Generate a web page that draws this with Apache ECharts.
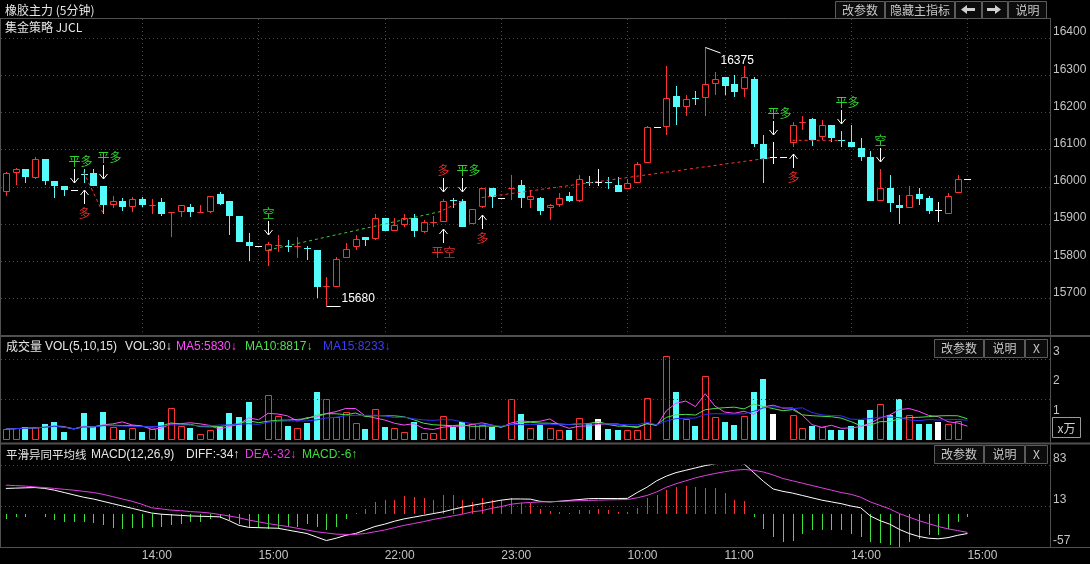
<!DOCTYPE html>
<html><head><meta charset="utf-8">
<script src="https://cdn.jsdelivr.net/npm/echarts@6/dist/echarts.min.js"></script>
<style>html,body{margin:0;padding:0;background:#000;}#c{width:1090px;height:564px;}</style>
</head><body><div id="c"></div>
<script>
// ---------- data ----------
const times = ['10:55','11:00','11:05','11:10','11:15','11:20','11:25','11:30',
'13:30','13:35','13:40','13:45','13:50','13:55','14:00','14:05','14:10','14:15','14:20','14:25','14:30','14:35','14:40','14:45','14:50','14:55','15:00',
'21:00','21:05','21:10','21:15','21:20','21:25','21:30','21:35','21:40','21:45','21:50','21:55','22:00','22:05','22:10','22:15','22:20','22:25','22:30','22:35','22:40','22:45','22:50','22:55','23:00',
'09:00','09:05','09:10','09:15','09:20','09:25','09:30','09:35','09:40','09:45','09:50','09:55','10:00','10:05','10:10','10:15',
'10:30','10:35','10:40','10:45','10:50','10:55','11:00','11:05','11:10','11:15','11:20','11:25','11:30',
'13:30','13:35','13:40','13:45','13:50','13:55','14:00','14:05','14:10','14:15','14:20','14:25','14:30','14:35','14:40','14:45','14:50','14:55','15:00'];
const emptySlots = 8;
const hourTicks = [14, 26, 39, 51, 64, 74, 87, 99];

const opens  = [15987,16036,16049,16023,16074,16015,16002,15991,16035,16036,
16003,15951,15961,15946,15967,15949,15960,15932,15933,15946,
15932,15933,15980,15962,15921,15852,15841,15828,15842,15842,
15838,15836,15830,15730,15731,15808,15837,15864,15861,15915,
15882,15897,15915,15879,15904,15906,15964,15962,15900,15946,
15996,15969,15996,16005,15964,15969,15942,15951,15975,15962,
16014,16013,16012,16005,15993,16011,16063,16160,16161,16244,
16215,16238,16238,16276,16294,16276,16262,16289,16115,16079,
16079,16117,16173,16181,16133,16166,16125,16121,16103,16081,
15962,15996,15951,15942,15980,15969,15937,15928,15982,16020];
const closes = [16036,16049,16027,16074,16016,16002,15991,15991,16033,16002,
15951,15962,15946,15968,15951,15951,15927,15933,15951,15933,
15933,15975,15955,15921,15852,15841,15841,15846,15844,15840,
15840,15834,15731,15732,15805,15834,15861,15857,15915,15882,
15897,15915,15882,15906,15906,15962,15961,15893,15939,15996,
15973,15969,15998,15969,15975,15935,15951,15969,15962,16020,
16013,16013,16010,15987,16009,16061,16160,16160,16240,16215,
16235,16236,16276,16289,16271,16255,16294,16115,16076,16079,
16079,16166,16175,16126,16166,16130,16124,16106,16081,15962,
15996,15957,15942,15978,15966,15935,15937,15975,16020,16020];
const lows   = [15975,16006,16011,16020,16005,15969,15976,15991,16011,16002,
15928,15942,15935,15933,15946,15927,15921,15864,15918,15918,
15930,15930,15951,15870,15852,15801,15841,15787,15826,15826,
15808,15803,15700,15680,15731,15808,15830,15840,15857,15882,
15882,15893,15866,15876,15892,15906,15942,15893,15900,15942,
15942,15969,15964,15942,15942,15924,15910,15946,15959,15960,
16002,16002,15993,15987,15993,16011,16063,16160,16139,16166,
16190,16220,16190,16246,16246,16242,16242,16106,16011,16061,
16079,16106,16152,16109,16126,16121,16106,16106,16070,15962,
15962,15933,15900,15942,15951,15928,15906,15928,15982,16020];
const highs  = [16040,16050,16049,16081,16076,16015,16002,15991,16049,16049,
16003,15975,15969,15973,15973,15966,15969,15933,15951,15955,
15951,15975,15985,15962,15921,15875,15841,15852,15870,15857,
15864,15840,15830,15758,15810,15849,15870,15864,15927,15915,
15915,15927,15927,15911,15921,15966,15969,15966,15939,15996,
15996,15969,16031,16018,15991,15973,15955,15984,15986,16031,
16029,16049,16027,16027,16020,16067,16164,16160,16324,16271,
16247,16258,16375,16309,16294,16300,16324,16294,16139,16121,
16079,16175,16190,16184,16179,16166,16151,16166,16130,16097,
16049,16031,15978,16002,15996,15975,15960,15984,16031,16020];
const volumes = [3700,4000,4300,4300,5400,6100,2700,30,9200,4300,
9500,4300,3400,4000,2700,3700,6100,10700,4600,4100,
1900,3400,4300,9200,7800,12900,30,15300,8000,4700,
4100,5900,16300,13900,7900,9500,5800,3700,10500,4400,
4000,2700,6200,2400,2400,8000,4400,6200,5400,5100,
4500,30,13800,8800,4000,5100,4000,3400,3400,7400,
5700,7000,3700,3400,3400,3400,14100,30,28500,16300,
7100,4700,21700,7700,6100,5100,8100,16300,20700,8800,
30,8500,4000,4700,4300,3400,3400,4700,6800,10200,
12200,8500,13900,8500,5400,5400,6200,5400,6400,30];
const diffLine = [43,43.5,44,44.5,43,40,36,32,28,25,
21,17,13,9,5,1,-1,-2,-3,-4,
-4.5,-5,-5.5,-12,-20,-23.5,-24,-24.5,-25,-28,
-31,-34,-40,-46,-42,-37,-34,-28,-22,-18,
-13,-9,-6,-3,0,3,7,11,14,17,
20,23,25,25,24.7,21,20,21,22.5,24,
25.5,25.8,25.8,25.8,26,36,45,56,64,70,
74,78,82,85,87,87,85,70,55,42,
38,35,31,27,23,20,17,13,10,-4,
-12,-18,-27,-34,-39,-42,-43,-41,-37,-34];
const deaLine = [48.6,47.8,47,45.5,44.5,43,41.5,40,38,36,
33,29,25,21,16,10,8,6,5,3.5,
2.5,1,-1.5,-4,-7,-11,-14,-17,-19.5,-22,
-25,-28,-31,-33,-35,-35.5,-35.5,-34,-31,-28,
-24,-20,-17,-13.7,-10,-7,-4,-1,3,5,
9,12,16,18,19,20,20.5,21,21.5,22,
22.5,23,23.5,23.8,24,27,31,37,45,51,
56,61,65,68.5,71.5,74,75.4,74,71,66,
60,56,52,48,44,40,36,33,28,20,
14,8,0,-6,-12,-17,-22,-26,-29,-32];
const macdBars = [-10,-6,-5,-1,-5,-11,-14,-15,-15,-16,
-20,-24,-26,-24,-24,-22,-22,-20,-17,-15,
-14,-9,-7,-11,-17,-22,-24,-26,-24,-22,
-22,-17,-22,-28,-22,-10,1,8,20,23,
24,30,28,26,24,31,31,23,20,27,
23,23,26,18,18,8,5,2,1,7,
7,8,6,3,3,9,26,31,40,46,
47,46,43,43,35,24,22,-5,-26,-40,
-48,-46,-34,-28,-28,-28,-28,-34,-40,-48,
-50,-54,-57,-48,-44,-37,-37,-27,-14,-6];

// trade signals
const sigIdx  = [7, 8, 10, 27, 45, 45, 47, 49, 79, 81, 86, 90];
const sigText = ['平多','多','平多','空','多','平空','平多','多','平多','多','平多','空'];
const sigPos  = ['above','below','above','above','above','below','above','below','above','below','above','above'];
// trade connecting lines: start index, start price, end index, end price, side
const tradeFrom  = [8, 27, 45, 49, 81];
const tradeFromP = [16040, 15830, 15937, 15971, 16125];
const tradeTo    = [10, 45, 47, 79, 86];
const tradeToP   = [15930, 15935, 15962, 16079, 16125];
const tradeSide  = ['long','short','long','long','long'];

// ---------- styling ----------
const RED = '#FF3232', CYAN = '#54FCFC', WHITE = '#FFFFFF';
const SIG_GREEN = '#2ED32E', SIG_RED = '#E82A2A';
const GRID_C = '#4a4a4a', BORDER = '#505050', LABEL_C = '#c4c4c4';
const FONT = '"Noto Sans CJK SC", "Microsoft YaHei", sans-serif';
const NUMFONT = 'Arial, "Liberation Sans", sans-serif';

const cats = times.concat(new Array(emptySlots).fill(''));
const n = closes.length;

function ma(arr, p) {
  return arr.map((v, i) => {
    let s = 0, c = 0;
    for (let k = Math.max(0, i - p + 1); k <= i; k++) { s += arr[k]; c++; }
    return [i, s / c / 10000];
  });
}

const chart = echarts.init(document.getElementById('c'), null, {renderer: 'canvas'});

function candleItem(params, api) {
  const i = api.value(0), o = api.value(1), c = api.value(2), l = api.value(3), h = api.value(4);
  const xc = Math.round(api.coord([i, o])[0]);
  const yO = Math.round(api.coord([i, o])[1]);
  const yC = Math.round(api.coord([i, c])[1]);
  const yL = Math.round(api.coord([i, l])[1]);
  const yH = Math.round(api.coord([i, h])[1]);
  const ch = [];
  const wx = xc + 0.5;
  if (c > o) {
    const top = yC, bot = yO;
    if (yH < top) ch.push({type: 'line', shape: {x1: wx, y1: yH, x2: wx, y2: top}, style: {stroke: RED, lineWidth: 1}});
    if (yL > bot) ch.push({type: 'line', shape: {x1: wx, y1: bot, x2: wx, y2: yL}, style: {stroke: RED, lineWidth: 1}});
    ch.push({type: 'rect', shape: {x: xc - 2.5, y: top + 0.5, width: 6, height: Math.max(bot - top - 1, 0)},
      style: {fill: '#000', stroke: RED, lineWidth: 1}});
  } else if (c < o) {
    ch.push({type: 'line', shape: {x1: wx, y1: yH, x2: wx, y2: yL}, style: {stroke: CYAN, lineWidth: 1}});
    ch.push({type: 'rect', shape: {x: xc - 3, y: yO, width: 7, height: Math.max(yC - yO, 1)}, style: {fill: CYAN}});
  } else {
    if (yL > yH) ch.push({type: 'line', shape: {x1: wx, y1: yH, x2: wx, y2: yL}, style: {stroke: WHITE, lineWidth: 1}});
    ch.push({type: 'line', shape: {x1: xc - 3, y1: yO + 0.5, x2: xc + 4, y2: yO + 0.5}, style: {stroke: WHITE, lineWidth: 1}});
  }
  return {type: 'group', children: ch};
}

function volItem(params, api) {
  const i = api.value(0), v = api.value(1), s = api.value(2);
  const xc = Math.round(api.coord([i, 0])[0]);
  const y0 = Math.round(api.coord([i, 0])[1]);
  const y1 = Math.round(api.coord([i, v])[1]);
  if (y0 - y1 < 1) return null;
  if (s > 0) {
    // hollow red bar drawn as an outline path
    const l = xc - 2.5, r = xc + 3.5, t = y1 + 0.5, b = y0 - 0.5;
    return {type: 'polyline', shape: {points: [[l, b], [l, t], [r, t], [r, b], [l, b]]},
      style: {fill: null, stroke: RED, lineWidth: 1}};
  }
  return {type: 'rect', shape: {x: xc - 3, y: y1, width: 6, height: y0 - y1}, style: {fill: s < 0 ? CYAN : WHITE}};
}

function macdItem(params, api) {
  const i = api.value(0), v = api.value(1);
  const x = Math.round(api.coord([i, 0])[0]) + 0.5;
  const y0 = api.coord([i, 0])[1], y1 = api.coord([i, v])[1];
  return {type: 'line', shape: {x1: x, y1: Math.round(y0), x2: x, y2: Math.round(y1)},
    style: {stroke: v >= 0 ? RED : '#3BE03B', lineWidth: 1}};
}

function vGridItem(params, api) {
  const x = Math.round(api.coord([api.value(0), 16000])[0]) + 0.5;
  return {type: 'line', shape: {x1: x, y1: 19, x2: x, y2: 335},
    style: {stroke: GRID_C, lineWidth: 1, lineDash: [1, 3]}, silent: true};
}

function signalItem(params, api) {
  const k = params.dataIndex;
  const i = api.value(0), p = api.value(1);
  const pt = api.coord([i, p]);
  const x = Math.round(pt[0]) + 0.5;
  const txt = sigText[k];
  const col = (txt === '平多' || txt === '空') ? SIG_GREEN : SIG_RED;
  const dx = txt === '平多' ? 6 : 0;
  const ch = [];
  if (sigPos[k] === 'above') {
    const tip = Math.round(pt[1]) - 7, top = tip - 14;
    ch.push({type: 'polyline', shape: {points: [[x, top], [x, tip]]}, style: {stroke: WHITE, lineWidth: 1, fill: null}});
    ch.push({type: 'polyline', shape: {points: [[x - 4, tip - 5], [x, tip], [x + 4, tip - 5]]}, style: {stroke: WHITE, lineWidth: 1, fill: null}});
    ch.push({type: 'text', style: {text: txt, x: x + dx, y: top - 8, fill: col, font: '12px ' + FONT,
      textAlign: 'center', textVerticalAlign: 'middle', align: 'center', verticalAlign: 'middle'}});
  } else {
    const tip = Math.round(pt[1]) + 7, bot = tip + 14;
    ch.push({type: 'polyline', shape: {points: [[x, tip], [x, bot]]}, style: {stroke: WHITE, lineWidth: 1, fill: null}});
    ch.push({type: 'polyline', shape: {points: [[x - 4, tip + 5], [x, tip], [x + 4, tip + 5]]}, style: {stroke: WHITE, lineWidth: 1, fill: null}});
    ch.push({type: 'text', style: {text: txt, x: x + dx, y: bot + 9, fill: col, font: '12px ' + FONT,
      textAlign: 'center', textVerticalAlign: 'middle', align: 'center', verticalAlign: 'middle'}});
  }
  return {type: 'group', children: ch};
}

// extreme annotations (highest high / lowest low), found from the data
let iMax = 0, iMin = 0;
for (let i = 0; i < n; i++) { if (highs[i] > highs[iMax]) iMax = i; if (lows[i] < lows[iMin]) iMin = i; }
function extremeItem(params, api) {
  const i = api.value(0), p = api.value(1), kind = api.value(2);
  const pt = api.coord([i, p]);
  const x = Math.round(pt[0]) + 0.5, y = Math.round(pt[1]);
  if (kind > 0) {
    return {type: 'group', children: [
      {type: 'line', shape: {x1: x, y1: y + 0.5, x2: x + 15, y2: y + 6}, style: {stroke: WHITE, lineWidth: 1}},
      {type: 'text', style: {text: String(p), x: x + 15, y: y + 8, fill: WHITE, font: '12px ' + NUMFONT,
        textAlign: 'left', textVerticalAlign: 'top', align: 'left', verticalAlign: 'top'}}]};
  }
  return {type: 'group', children: [
    {type: 'line', shape: {x1: x, y1: y + 0.5, x2: x + 14, y2: y + 0.5}, style: {stroke: WHITE, lineWidth: 1}},
    {type: 'text', style: {text: String(p), x: x + 15, y: y - 1, fill: WHITE, font: '12px ' + NUMFONT,
      textAlign: 'left', textVerticalAlign: 'bottom', align: 'left', verticalAlign: 'bottom'}}]};
}

const gridCommon = {left: 1, right: 40, outerBoundsMode: 'none', containLabel: false};
const hiddenX = (gi) => ({type: 'category', gridIndex: gi, data: cats, boundaryGap: true,
  axisLine: {show: false}, axisTick: {show: false}, axisLabel: {show: false}, splitLine: {show: false}});

const series = [];
series.push({type: 'custom', xAxisIndex: 0, yAxisIndex: 0, z: 1, silent: true,
  data: hourTicks.map(i => [i]), renderItem: vGridItem});
series.push({type: 'custom', name: 'K', xAxisIndex: 0, yAxisIndex: 0, z: 3,
  data: opens.map((o, i) => [i, o, closes[i], lows[i], highs[i]]), renderItem: candleItem,
  encode: {x: 0, y: [1, 2, 3, 4]}});
for (let t = 0; t < tradeFrom.length; t++) {
  series.push({type: 'line', xAxisIndex: 0, yAxisIndex: 0, z: 4, symbol: 'none', silent: true,
    data: [[tradeFrom[t], tradeFromP[t]], [tradeTo[t], tradeToP[t]]],
    lineStyle: {color: tradeSide[t] === 'long' ? RED : '#3CC83C', width: 1, type: [3, 3]}});
}
series.push({type: 'custom', xAxisIndex: 0, yAxisIndex: 0, z: 5, silent: true,
  data: sigIdx.map((i, k) => [i, sigPos[k] === 'above' ? highs[i] : lows[i]]), renderItem: signalItem});
series.push({type: 'custom', xAxisIndex: 0, yAxisIndex: 0, z: 5, silent: true,
  data: [[iMax, highs[iMax], 1], [iMin, lows[iMin], -1]], renderItem: extremeItem});
// volume
series.push({type: 'custom', xAxisIndex: 1, yAxisIndex: 1, z: 3, silent: true,
  data: volumes.map((v, i) => [i, v / 10000, Math.sign(closes[i] - opens[i])]), renderItem: volItem,
  encode: {x: 0, y: 1}});
[[5, '#FF4CFF'], [10, '#4CE04C'], [15, '#3030FF']].forEach(([p, col]) => {
  series.push({type: 'line', xAxisIndex: 1, yAxisIndex: 1, z: 4, symbol: 'none', silent: true,
    data: ma(volumes, p), lineStyle: {color: col, width: 1}});
});
// MACD
series.push({type: 'custom', xAxisIndex: 2, yAxisIndex: 2, z: 3,
  data: macdBars.map((v, i) => [i, v]), renderItem: macdItem, encode: {x: 0, y: 1}});
series.push({type: 'line', xAxisIndex: 2, yAxisIndex: 2, z: 4, symbol: 'none', silent: true,
  data: diffLine.map((v, i) => [i, v]), lineStyle: {color: '#FFFFFF', width: 1}});
series.push({type: 'line', xAxisIndex: 2, yAxisIndex: 2, z: 4, symbol: 'none', silent: true,
  data: deaLine.map((v, i) => [i, v]), lineStyle: {color: '#E040E0', width: 1}});

// ---------- decorations ----------
const g = [];
const txt = (s, x, y, fill, align, font) => ({type: 'text', z: 10, silent: true,
  style: {text: s, x: x, y: y, fill: fill, font: font || ('12px ' + FONT),
    textAlign: align || 'left', textVerticalAlign: 'middle', align: align || 'left', verticalAlign: 'middle'}});
const lat = (s, x, y, fill) => txt(s, x, y, fill, 'left', '12px ' + NUMFONT);
const hline = (y, x1, x2, col, w, dash) => ({type: 'line', z: 9, silent: true,
  shape: {x1: x1, y1: y, x2: x2, y2: y}, style: {stroke: col, lineWidth: w || 1, lineDash: dash || null}});
const vline = (x, y1, y2, col, w) => ({type: 'line', z: 9, silent: true,
  shape: {x1: x, y1: y1, x2: x, y2: y2}, style: {stroke: col, lineWidth: w || 1}});
const button = (x1, x2, y1, y2, label) => {
  g.push({type: 'rect', z: 11, silent: true, shape: {x: x1 + 0.5, y: y1 + 0.5, width: x2 - x1, height: y2 - y1},
    style: {fill: '#0c0c0c', stroke: '#5c5c5c', lineWidth: 1}});
  if (label) g.push(Object.assign(txt(label, (x1 + x2) / 2 + 0.5, (y1 + y2) / 2 + 0.5, '#c8c8c8', 'center'), {z: 12}));
};

// frame lines
g.push(hline(18.5, 0, 1050, BORDER));
g.push(vline(0.5, 18, 548, BORDER));
g.push(vline(1050.5, 18, 548, BORDER));
g.push(hline(336, 0, 1090, BORDER, 2));
g.push(hline(443.5, 0, 1090, BORDER, 2));
g.push(hline(547.5, 0, 1090, BORDER, 1));
// volume panel helper dotted lines
g.push(hline(359.5, 1, 1050, GRID_C, 1, [1, 3]));
g.push(hline(399.5, 1, 1050, GRID_C, 1, [1, 3]));

// titles
g.push(txt('橡胶主力 (5分钟)', 5, 10, '#e6e6e6'));
g.push(txt('集金策略 JJCL', 5, 27.5, '#e6e6e6'));
// volume header
g.push(txt('成交量', 6, 346.5, '#e6e6e6'));
g.push(lat('VOL(5,10,15)', 45, 346.5, '#e6e6e6'));
g.push(lat('VOL:30↓', 125, 346.5, '#e6e6e6'));
g.push(lat('MA5:5830↓', 176, 346.5, '#FF4CFF'));
g.push(lat('MA10:8817↓', 245, 346.5, '#4CE04C'));
g.push(lat('MA15:8233↓', 323, 346.5, '#3C3CFF'));
// MACD header
g.push(txt('平滑异同平均线', 6, 455, '#e6e6e6', 'left', '11.5px ' + FONT));
g.push(lat('MACD(12,26,9)', 91, 455, '#e6e6e6'));
g.push(lat('DIFF:-34↑', 186, 455, '#e6e6e6'));
g.push(lat('DEA:-32↓', 245, 455, '#E040E0'));
g.push(lat('MACD:-6↑', 302, 455, '#3BE03B'));

// buttons
button(835, 884, 1, 18, '改参数');
button(885, 954, 1, 18, '隐藏主指标');
button(955, 981, 1, 18, '');
button(982, 1007, 1, 18, '');
button(1008, 1046, 1, 18, '说明');
g.push({type: 'polygon', z: 12, silent: true, shape: {points: [[961, 9.5], [967, 5], [967, 8], [975, 8], [975, 11], [967, 11], [967, 14]]}, style: {fill: '#d0d0d0'}});
g.push({type: 'polygon', z: 12, silent: true, shape: {points: [[1001, 9.5], [995, 5], [995, 8], [987, 8], [987, 11], [995, 11], [995, 14]]}, style: {fill: '#d0d0d0'}});
[[339, 357], [445, 463]].forEach(([y1, y2]) => {
  button(934, 983, y1, y2, '改参数');
  button(984, 1024, y1, y2, '说明');
  button(1025, 1047, y1, y2, 'X');
});
g.push({type: 'rect', z: 11, silent: true, shape: {x: 1052.5, y: 417.5, width: 28, height: 20}, style: {fill: '#000', stroke: '#9a9a9a', lineWidth: 1}});
g.push(Object.assign(txt('x万', 1066.5, 428, '#d0d0d0', 'center'), {z: 12}));

const option = {
  backgroundColor: '#000',
  animation: false,
  grid: [
    Object.assign({top: 38, height: 297.6}, gridCommon),
    Object.assign({top: 351.5, height: 88.5}, gridCommon),
    Object.assign({top: 465, height: 82}, gridCommon)
  ],
  xAxis: [hiddenX(0), hiddenX(1), {
    type: 'category', gridIndex: 2, data: cats, boundaryGap: true,
    axisLine: {show: false}, axisTick: {show: false}, splitLine: {show: false},
    axisLabel: {show: true, interval: (idx) => hourTicks.indexOf(idx) >= 0, align: 'left', margin: 3,
      color: LABEL_C, fontSize: 12, fontFamily: NUMFONT, hideOverlap: false}
  }],
  yAxis: [
    {type: 'value', gridIndex: 0, position: 'right', min: 15600, max: 16400, interval: 100,
      axisLine: {show: false}, axisTick: {show: false},
      axisLabel: {color: LABEL_C, fontSize: 12, fontFamily: NUMFONT, margin: 3, verticalAlign: 'bottom',
        formatter: v => v === 15600 ? '' : String(v)},
      splitLine: {show: true, lineStyle: {color: GRID_C, width: 1, type: [1, 3]}}},
    {type: 'value', gridIndex: 1, position: 'right', min: 0, max: 3, interval: 1,
      axisLine: {show: false}, axisTick: {show: false},
      axisLabel: {color: LABEL_C, fontSize: 12, fontFamily: NUMFONT, margin: 3, verticalAlign: 'middle',
        formatter: v => v === 0 ? '' : String(v)},
      splitLine: {show: false}},
    {type: 'value', gridIndex: 2, position: 'right', min: -57, max: 83, interval: 70,
      axisLine: {show: false}, axisTick: {show: false},
      axisLabel: {color: LABEL_C, fontSize: 12, fontFamily: NUMFONT, margin: 3, verticalAlign: 'bottom'},
      splitLine: {show: true, lineStyle: {color: GRID_C, width: 1, type: [1, 3]}}}
  ],
  series: series,
  graphic: {elements: g}
};
chart.setOption(option);
</script>
</body></html>
